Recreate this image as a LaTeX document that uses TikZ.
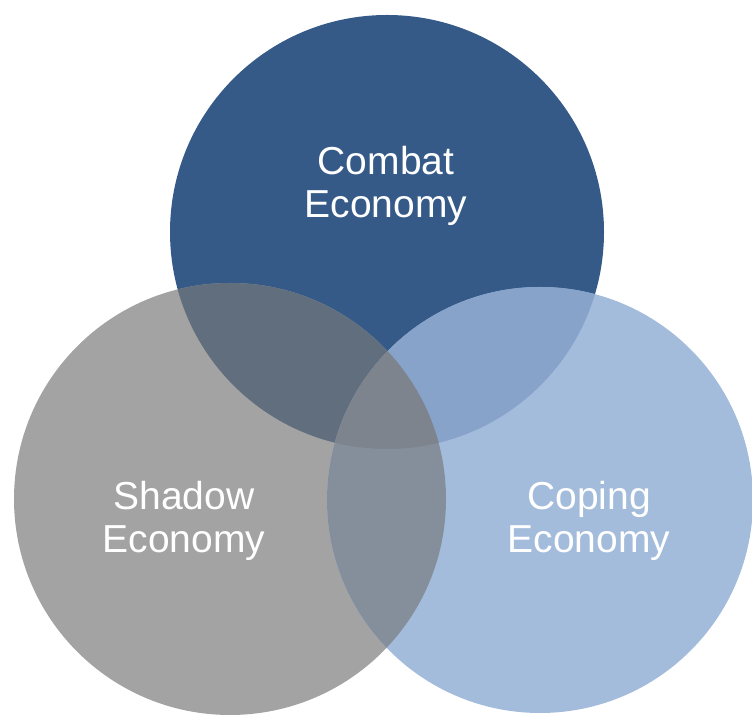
\documentclass[tikz,border=0pt]{standalone}
\usepackage{fontspec}
\setmainfont{Liberation Sans}
\definecolor{combatc}{RGB}{53,90,136}
\definecolor{shadowc}{RGB}{163,163,163}
\definecolor{copingc}{RGB}{164,188,219}
\definecolor{cs}{RGB}{96,110,126}
\definecolor{cc}{RGB}{135,163,202}
\definecolor{sc}{RGB}{133,143,156}
\definecolor{all}{RGB}{126,132,142}
\begin{document}
\begin{tikzpicture}[x=1pt,y=1pt,
  label/.style={text=white,align=center,font=\fontsize{39}{43}\selectfont,inner sep=0pt}]
\useasboundingbox (0,0) rectangle (752,719);
\def\combatpath{(387,487) circle[radius=217]}
\def\shadowpath{(230,220) circle[radius=216]}
\def\copingpath{(540,219) circle[radius=213]}
\fill[combatc] \combatpath;
\fill[shadowc] \shadowpath;
\fill[copingc] \copingpath;
\begin{scope}
  \clip \combatpath;
  \fill[cs] \shadowpath;
  \fill[cc] \copingpath;
\end{scope}
\begin{scope}
  \clip \shadowpath;
  \fill[sc] \copingpath;
  \clip \copingpath;
  \fill[all] \combatpath;
\end{scope}
\node[label,anchor=base] (combat) at (386,501) {Combat\\Economy};
\node[label,anchor=base] (shadow) at (184,166) {Shadow\\Economy};
\node[label,anchor=base] (coping) at (589,166) {Coping\\Economy};
\end{tikzpicture}
\end{document}
